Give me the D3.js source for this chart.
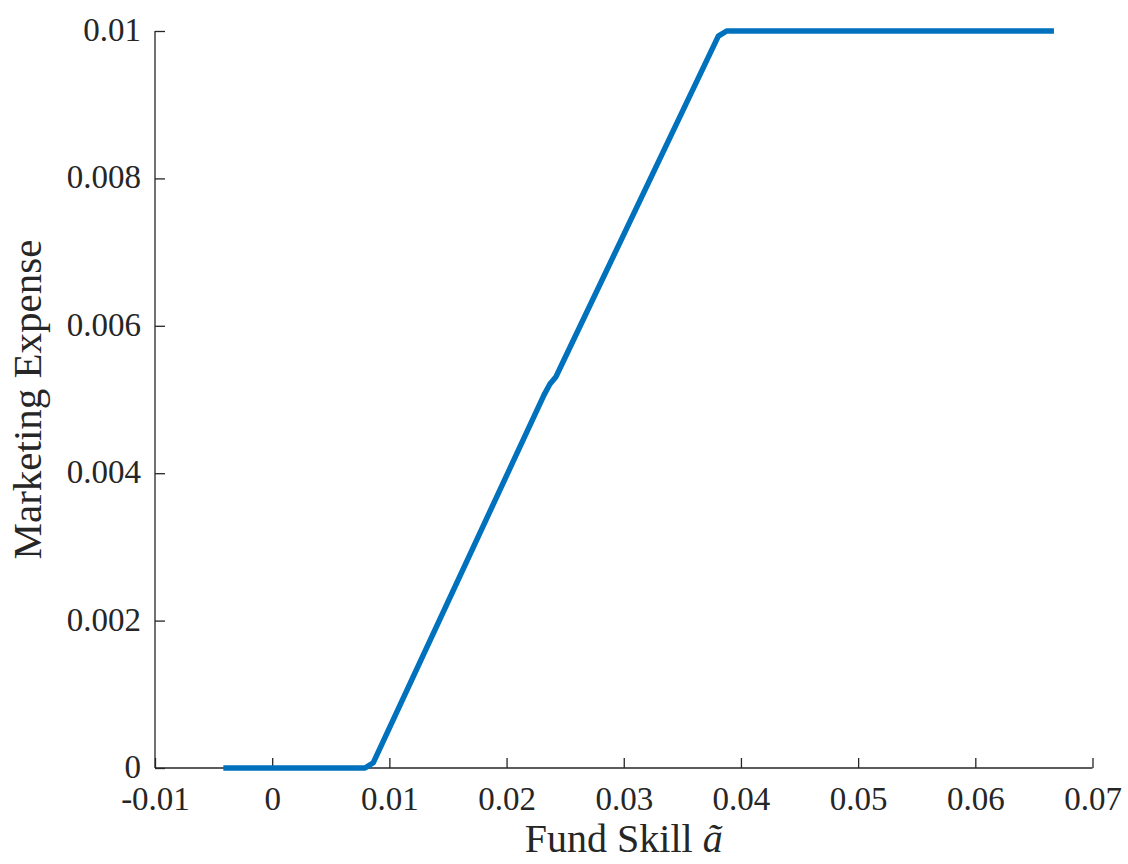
<!DOCTYPE html>
<html>
<head>
<meta charset="utf-8">
<script src="https://cdn.jsdelivr.net/npm/d3@7"></script>
<style>
  html, body { margin: 0; padding: 0; background: #ffffff; }
  svg { display: block; }
</style>
</head>
<body>
<svg id="chart" width="1128" height="864"></svg>
<script>
// Data
const skill   = [-0.00417, 0.00792, 0.00863, 0.02319, 0.02370, 0.02422, 0.02455, 0.03807, 0.03878, 0.06671];
const expense = [0.0, 0.0, 0.000072, 0.00506, 0.00521, 0.00531, 0.00542, 0.00993, 0.0100, 0.0100];
const xTicks = [-0.01, 0, 0.01, 0.02, 0.03, 0.04, 0.05, 0.06, 0.07];
const xTickLabels = ["-0.01", "0", "0.01", "0.02", "0.03", "0.04", "0.05", "0.06", "0.07"];
const yTicks = [0, 0.002, 0.004, 0.006, 0.008, 0.01];
const yTickLabels = ["0", "0.002", "0.004", "0.006", "0.008", "0.01"];
const xLabel = "Fund Skill ";
const xLabelSymbol = "ã";
const yLabel = "Marketing Expense";

const svg = d3.select("#chart");
const pLeft = 155, pRight = 1092.5, pTop = 31, pBottom = 768;
const axisColor = "#262626";
const font = "'Liberation Serif', 'Times New Roman', serif";

const x = d3.scaleLinear().domain([-0.01, 0.07]).range([pLeft, pRight]);
const y = d3.scaleLinear().domain([0, 0.01]).range([pBottom, pTop]);

// X axis (ticks inward)
const xAxis = d3.axisBottom(x).tickValues(xTicks).tickSize(-10).tickPadding(0)
  .tickFormat((d, i) => xTickLabels[i]);
const gx = svg.append("g").attr("transform", `translate(0,${pBottom})`).call(xAxis);
gx.select(".domain").attr("stroke", axisColor).attr("stroke-width", 1.3)
  .attr("d", `M${pLeft},0H${pRight}`);
gx.selectAll(".tick line").attr("stroke", axisColor).attr("stroke-width", 1.3);
gx.selectAll(".tick text").attr("fill", axisColor).attr("font-family", font)
  .attr("font-size", 33).attr("y", 42).attr("dy", 0);

// Y axis (ticks inward)
const yAxis = d3.axisLeft(y).tickValues(yTicks).tickSize(-10).tickPadding(0)
  .tickFormat((d, i) => yTickLabels[i]);
const gy = svg.append("g").attr("transform", `translate(${pLeft},0)`).call(yAxis);
gy.select(".domain").attr("stroke", axisColor).attr("stroke-width", 1.3)
  .attr("d", `M0,${pTop}V${pBottom}`);
gy.selectAll(".tick line").attr("stroke", axisColor).attr("stroke-width", 1.3);
gy.selectAll(".tick text").attr("fill", axisColor).attr("font-family", font)
  .attr("font-size", 33).attr("x", -14).attr("dy", 9.5).attr("text-anchor", "end");

// Line
const data = skill.map((s, i) => [s, expense[i]]);
svg.append("path").datum(data)
  .attr("fill", "none")
  .attr("stroke", "#0072BD")
  .attr("stroke-width", 5.5)
  .attr("stroke-linejoin", "round")
  .attr("stroke-linecap", "butt")
  .attr("d", d3.line().x(d => x(d[0])).y(d => y(d[1])));

// X label
const xl = svg.append("text")
  .attr("x", (pLeft + pRight) / 2).attr("y", 852)
  .attr("text-anchor", "middle")
  .attr("font-family", font).attr("font-size", 40).attr("fill", axisColor);
xl.append("tspan").text(xLabel);
xl.append("tspan").attr("font-style", "italic").text(xLabelSymbol);

// Y label
svg.append("text")
  .attr("transform", `translate(41,${(pTop + pBottom) / 2}) rotate(-90)`)
  .attr("text-anchor", "middle")
  .attr("font-family", font).attr("font-size", 41).attr("fill", axisColor)
  .text(yLabel);
</script>
</body>
</html>
